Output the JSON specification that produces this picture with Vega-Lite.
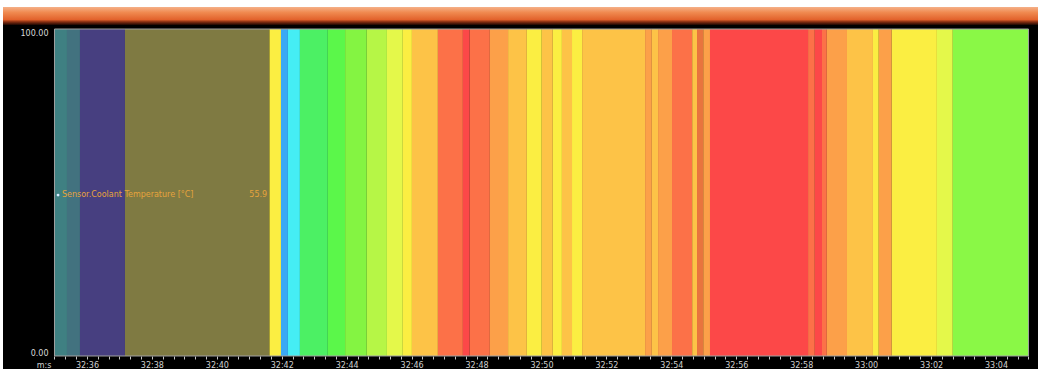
{
  "$schema": "https://vega.github.io/schema/vega-lite/v6.json",
  "width": 1035,
  "height": 362,
  "autosize": {"type": "none"},
  "padding": {"left": 3, "top": 7, "right": 0, "bottom": 0},
  "background": "#ffffff",
  "config": {
    "view": {"fill": "#000000", "stroke": null},
    "font": "DejaVu Sans",
    "axis": {"zindex": 1, "grid": false, "domain": false, "labelOverlap": false, "labelFlush": false, "labelBound": false, "labelFontSize": 8, "titleFontSize": 8, "titleFontWeight": "normal"}
  },
  "datasets": {
    "bands": [
      {"start": 35.000, "end": 35.385, "level": "teal1"},
      {"start": 35.385, "end": 35.785, "level": "teal2"},
      {"start": 35.785, "end": 37.171, "level": "indigo"},
      {"start": 37.171, "end": 41.620, "level": "olive"},
      {"start": 41.620, "end": 41.976, "level": "yellow"},
      {"start": 41.976, "end": 42.190, "level": "blue"},
      {"start": 42.190, "end": 42.560, "level": "cyan"},
      {"start": 42.560, "end": 43.420, "level": "green1"},
      {"start": 43.420, "end": 43.950, "level": "green2"},
      {"start": 43.950, "end": 44.620, "level": "lgreen"},
      {"start": 44.620, "end": 45.240, "level": "ygreen"},
      {"start": 45.240, "end": 45.730, "level": "lime"},
      {"start": 45.730, "end": 46.010, "level": "yellow"},
      {"start": 46.010, "end": 46.810, "level": "lorange"},
      {"start": 46.810, "end": 47.580, "level": "ored"},
      {"start": 47.580, "end": 47.790, "level": "red"},
      {"start": 47.790, "end": 48.410, "level": "ored"},
      {"start": 48.410, "end": 48.970, "level": "orange"},
      {"start": 48.970, "end": 49.550, "level": "lorange"},
      {"start": 49.550, "end": 50.010, "level": "yellow"},
      {"start": 50.010, "end": 50.350, "level": "lorange"},
      {"start": 50.350, "end": 50.630, "level": "yellow"},
      {"start": 50.630, "end": 50.940, "level": "lorange"},
      {"start": 50.940, "end": 51.250, "level": "yellow"},
      {"start": 51.250, "end": 53.190, "level": "lorange"},
      {"start": 53.190, "end": 53.400, "level": "orange"},
      {"start": 53.400, "end": 53.590, "level": "lorange"},
      {"start": 53.590, "end": 54.020, "level": "orange"},
      {"start": 54.020, "end": 54.640, "level": "ored"},
      {"start": 54.640, "end": 54.790, "level": "lorange"},
      {"start": 54.790, "end": 54.980, "level": "dorange"},
      {"start": 54.980, "end": 55.190, "level": "orange"},
      {"start": 55.190, "end": 58.210, "level": "red"},
      {"start": 58.210, "end": 58.420, "level": "ored"},
      {"start": 58.420, "end": 58.640, "level": "red"},
      {"start": 58.640, "end": 58.790, "level": "ored"},
      {"start": 58.790, "end": 59.410, "level": "orange"},
      {"start": 59.410, "end": 60.210, "level": "lorange"},
      {"start": 60.210, "end": 60.390, "level": "yellow"},
      {"start": 60.390, "end": 60.790, "level": "orange"},
      {"start": 60.790, "end": 62.180, "level": "yellow"},
      {"start": 62.180, "end": 62.670, "level": "lime"},
      {"start": 62.670, "end": 65.000, "level": "green3"}
    ],
    "series": [{"name": "Sensor.Coolant Temperature [°C]", "reading": "55.9"}],
    "window": [{"caption": ""}]
  },
  "layer": [
    {
      "data": {"name": "bands"},
      "mark": {"type": "rect"},
      "encoding": {
        "x": {
          "field": "start", "type": "quantitative", "title": "m:s",
          "scale": {"domain": [33.414, 65.293], "nice": false, "zero": false},
          "axis": {
            "values": [35,35.333,35.667,36,36.333,36.667,37,37.333,37.667,38,38.333,38.667,39,39.333,39.667,40,40.333,40.667,41,41.333,41.667,42,42.333,42.667,43,43.333,43.667,44,44.333,44.667,45,45.333,45.667,46,46.333,46.667,47,47.333,47.667,48,48.333,48.667,49,49.333,49.667,50,50.333,50.667,51,51.333,51.667,52,52.333,52.667,53,53.333,53.667,54,54.333,54.667,55,55.333,55.667,56,56.333,56.667,57,57.333,57.667,58,58.333,58.667,59,59.333,59.667,60,60.333,60.667,61,61.333,61.667,62,62.333,62.667,63,63.333,63.667,64,64.333,64.667,65],
            "tickCount": 200,
            "labelExpr": "datum.value % 2 == 0 ? (datum.value < 60 ? '32:' + datum.value : '33:0' + (datum.value - 60)) : ''",
            "title": "m:s",
            "titleX": 40.5, "titleY": 5, "titleAlign": "center",
            "titleBaseline": "top", "titleColor": "#d0d0d0", "titlePadding": 0,
            "ticks": true, "tickSize": 3, "tickColor": "#c8c8c8", "tickWidth": 1,
            "labelPadding": 2, "labelColor": "#d0d0d0", "labelBaseline": "top",
            "offset": -13
          }
        },
        "x2": {"field": "end"},
        "y": {
          "datum": 0, "type": "quantitative",
          "scale": {"domain": [-3.976, 106.73], "nice": false, "zero": false},
          "axis": {
            "values": [0, 100], "format": ".2f", "title": null,
            "ticks": false, "tickSize": 0,
            "labelAlign": "right", "labelPadding": -45, "labelColor": "#d8d8d8",
            "labelBaseline": {"condition": {"test": "datum.value > 50", "value": "top"}, "value": "alphabetic"}
          }
        },
        "y2": {"datum": 100},
        "color": {
          "field": "level", "type": "nominal", "legend": null,
          "scale": {
            "domain": ["teal1","teal2","indigo","olive","yellow","blue","cyan","green1","green2","lgreen","ygreen","lime","lorange","orange","ored","red","dorange","green3"],
            "range": ["#3f8082","#42727f","#473f80","#7f7a42","#fbee42","#3aa9f4","#45edf4","#4cf064","#5bf74a","#84f442","#b6f646","#e4f84a","#fdc347","#fca049","#fc7148","#fc4848","#e8743e","#8af846"]
          }
        }
      }
    },
    {
      "data": {"name": "window"},
      "mark": {"type": "rect", "filled": false, "color": "#a0a0a0", "strokeWidth": 1},
      "encoding": {
        "x": {"datum": 35, "type": "quantitative", "title": "m:s"},
        "x2": {"datum": 65},
        "y": {"datum": 0, "type": "quantitative"},
        "y2": {"datum": 100}
      }
    },
    {
      "data": {"name": "window"},
      "mark": {
        "type": "rect",
        "fill": {"gradient": "linear", "x1": 0, "y1": 0, "x2": 0, "y2": 1,
          "stops": [
            {"offset": 0, "color": "#f5b088"},
            {"offset": 0.3, "color": "#f08a50"},
            {"offset": 0.7, "color": "#e2622c"},
            {"offset": 0.82, "color": "#8a3012"},
            {"offset": 1, "color": "#1a0602"}
          ]}
      },
      "encoding": {
        "x": {"datum": 33.414, "type": "quantitative", "title": "m:s"},
        "x2": {"datum": 65.293},
        "y": {"datum": 101.22, "type": "quantitative"},
        "y2": {"datum": 106.73}
      }
    },
    {
      "data": {"name": "series"},
      "mark": {"type": "point", "filled": true, "color": "#d8ecff", "size": 8, "opacity": 1},
      "encoding": {
        "x": {"datum": 35.11, "type": "quantitative", "title": "m:s"},
        "y": {"datum": 49.2, "type": "quantitative"}
      }
    },
    {
      "data": {"name": "series"},
      "mark": {"type": "text", "align": "left", "baseline": "middle", "color": "#e6a43c", "fontSize": 8},
      "encoding": {
        "text": {"field": "name"},
        "x": {"datum": 35.23, "type": "quantitative", "title": "m:s"},
        "y": {"datum": 49.2, "type": "quantitative"}
      }
    },
    {
      "data": {"name": "series"},
      "mark": {"type": "text", "align": "right", "baseline": "middle", "color": "#e6a43c", "fontSize": 8},
      "encoding": {
        "text": {"field": "reading"},
        "x": {"datum": 41.55, "type": "quantitative", "title": "m:s"},
        "y": {"datum": 49.2, "type": "quantitative"}
      }
    }
  ]
}
